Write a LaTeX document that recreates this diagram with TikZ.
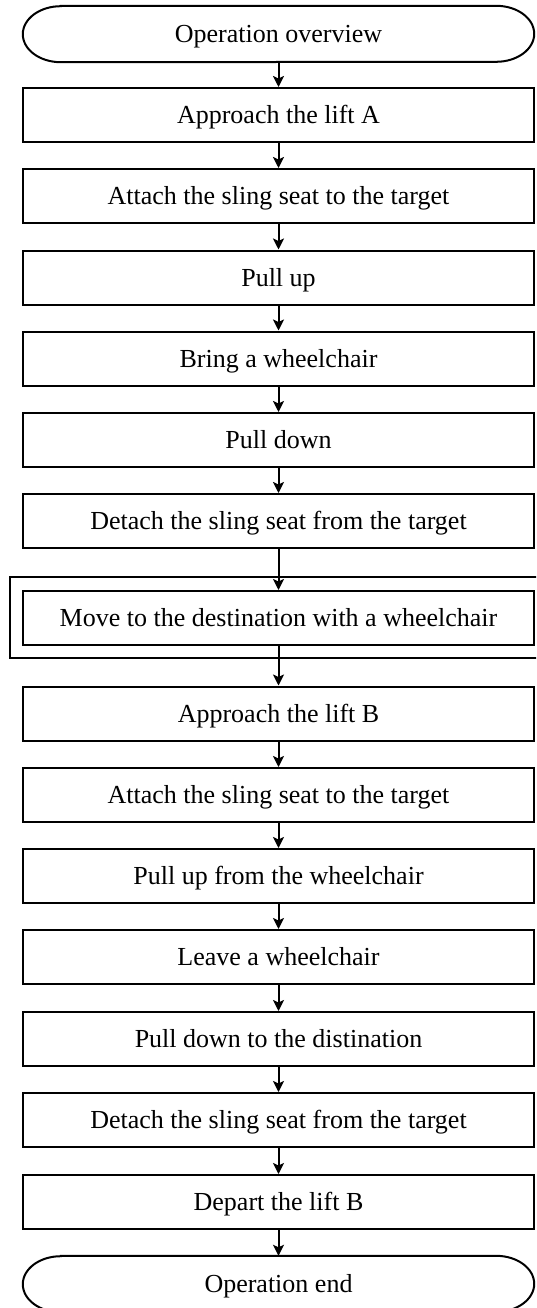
\documentclass[tikz,border=0pt]{standalone}
\usepackage{fontspec}
\setmainfont{Liberation Serif}
\usetikzlibrary{arrows.meta}

% outline of a terminal: straight top and bottom, half-ellipse ends
\newcommand\termoutline[1]{%
  \draw[termline] ([xshift=38pt]#1.north west) -- ([xshift=-38pt]#1.north east)
    arc[start angle=90,end angle=-90,x radius=38pt,y radius=28pt]
    -- ([xshift=38pt]#1.south west)
    arc[start angle=270,end angle=90,x radius=38pt,y radius=28pt] -- cycle;}

\begin{document}
\begin{tikzpicture}[x=1pt,y=-1pt,
  label font/.style={font=\fontsize{26}{30}\selectfont, text height=17pt, text depth=0pt},
  stepbox/.style={draw, line width=2pt, rectangle, minimum width=511pt,
    minimum height=54pt, inner sep=0pt, label font},
  termnode/.style={rectangle, minimum width=511pt, minimum height=56pt,
    inner sep=0pt, label font},
  groupbox/.style={draw, line width=2pt, rectangle, minimum width=537pt,
    minimum height=81pt, inner sep=0pt},
  termline/.style={line width=2pt},
  flow/.style={line width=2pt, -{Stealth[length=11pt,width=11pt,inset=2.5pt]}}
]
\clip (0,0) rectangle (536,1308);

\node[termnode] (t0) at (278.5,34) {Operation overview};
\termoutline{t0}

\node[stepbox] (b1)  at (278.5,115)   {Approach the lift A};
\node[stepbox] (b2)  at (278.5,196)   {Attach the sling seat to the target};
\node[stepbox] (b3)  at (278.5,277.5) {Pull up};
\node[stepbox] (b4)  at (278.5,358.5) {Bring a wheelchair};
\node[stepbox] (b5)  at (278.5,440)   {Pull down};
\node[stepbox] (b6)  at (278.5,521)   {Detach the sling seat from the target};

\node[groupbox] (grp) at (278.5,617.5) {};
\node[stepbox] (b7)  at (278.5,618)   {Move to the destination with a wheelchair};

\node[stepbox] (b8)  at (278.5,713.5) {Approach the lift B};
\node[stepbox] (b9)  at (278.5,795)   {Attach the sling seat to the target};
\node[stepbox] (b10) at (278.5,876)   {Pull up from the wheelchair};
\node[stepbox] (b11) at (278.5,957)   {Leave a wheelchair};
\node[stepbox] (b12) at (278.5,1039)  {Pull down to the distination};
\node[stepbox] (b13) at (278.5,1120)  {Detach the sling seat from the target};
\node[stepbox] (b14) at (278.5,1202)  {Depart the lift B};

\node[termnode] (t1) at (278.5,1284) {Operation end};
\termoutline{t1}

\foreach \a/\b in {t0/b1,b1/b2,b2/b3,b3/b4,b4/b5,b5/b6,b6/b7,b7/b8,
                   b8/b9,b9/b10,b10/b11,b11/b12,b12/b13,b13/b14,b14/t1}
  \draw[flow] (\a.south) -- (\b.north);
\end{tikzpicture}
\end{document}
